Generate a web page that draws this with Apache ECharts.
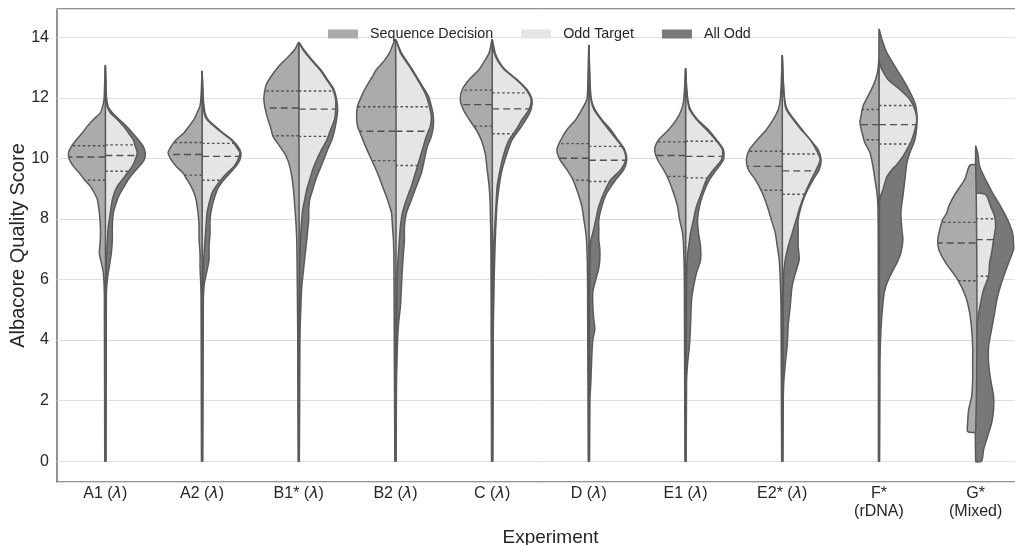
<!DOCTYPE html>
<html>
<head>
<meta charset="utf-8">
<script src="https://cdn.jsdelivr.net/npm/echarts@6/dist/echarts.min.js"></script>
<style>
html,body{margin:0;padding:0;background:#fff;}
#chart{width:1015px;height:545px;}
</style>
</head>
<body>
<div id="chart"></div>
<script>
// Category labels
const categories = ['A1 (λ)', 'A2 (λ)', 'B1* (λ)', 'B2 (λ)', 'C (λ)', 'D (λ)', 'E1 (λ)', 'E2* (λ)', 'F*\n(rDNA)', 'G*\n(Mixed)'];
const seriesNames = ['Sequence Decision', 'Odd Target', 'All Odd'];

// Violin half profiles: [score, density] pairs, from top to bottom (density in 1/100 of a category band)
const seqDecision = [
  [[13.04,0],[12.5,0.7],[12.0,1.2],[11.75,2.5],[11.51,5],[11.29,12],[11.07,18],[10.85,23],[10.62,29],[10.40,34],[10.19,37],[9.96,36],[9.74,32],[9.52,26],[9.30,21],[9.08,15],[8.86,11],[8.64,8],[8.20,6],[7.76,5],[7.32,5],[6.88,6],[6.55,4],[6.22,2],[5.5,1],[0,0.6]],
  [[12.85,0],[12.2,0.8],[11.74,2],[11.51,5],[11.29,8],[11.07,13],[10.85,18],[10.62,26],[10.40,31],[10.19,34],[9.96,31],[9.74,26],[9.52,19],[9.30,15],[9.08,11],[8.86,8],[8.64,6],[8.20,4],[7.76,3],[7.32,3],[6.88,2],[6.44,2],[5.5,1],[0,0.6]],
  [[13.82,0],[13.6,4],[13.38,10],[13.05,20],[12.7,28],[12.4,33],[12.0,35],[11.7,34],[11.3,31],[11.0,28],[10.75,26],[10.4,19],[10.1,13],[9.74,9],[9.3,6.5],[8.86,5],[8.42,4],[7.98,3],[7.3,2],[6,1.5],[4,1],[0,0.6]],
  [[13.91,0],[13.49,6],[13.2,12],[12.94,19],[12.66,24],[12.39,29],[12.06,34],[11.73,38],[11.40,39],[11.07,38],[10.73,34],[10.40,30],[9.96,24],[9.52,18],[9.08,13],[8.64,8],[8.20,4],[7.76,3],[7.3,2],[6.5,1.5],[0,0.6]],
  [[13.91,0],[13.49,3],[13.2,8],[12.94,13],[12.61,23],[12.28,30],[11.95,32],[11.62,29],[11.29,23],[10.95,16],[10.62,11],[10.18,7],[9.63,5],[9.08,3],[8.5,2],[7,1.2],[0,0.6]],
  [[13.7,0],[12.8,0.8],[12.3,1.2],[11.95,2],[11.62,7],[11.29,13],[10.95,22],[10.62,28],[10.29,32],[9.96,29],[9.63,22],[9.30,16],[8.86,11],[8.42,7],[7.98,5],[7.54,3],[7.10,2],[6,1.3],[0,0.6]],
  [[12.94,0],[12.3,1],[11.9,2],[11.62,4],[11.29,9],[10.95,17],[10.62,27],[10.29,31],[9.96,28],[9.63,22],[9.30,17],[8.86,12],[8.42,8],[7.98,6],[7.54,3],[7.1,2],[6,1.2],[0,0.6]],
  [[13.37,0],[12.5,1],[11.95,2],[11.62,4],[11.29,9],[10.95,16],[10.62,25],[10.29,33],[9.96,36],[9.63,34],[9.30,27],[8.86,20],[8.42,15],[7.98,11],[7.54,7],[7.10,5],[6.66,3],[6.0,2],[5,1.2],[0,0.6]],
  [[13.27,0],[12.94,1],[12.65,3],[12.39,6],[12.06,11],[11.73,16],[11.40,18],[11.18,19],[10.85,17],[10.51,14],[10.19,9],[9.74,6],[9.30,4],[8.86,2],[8.42,1],[7,0.6],[0,0.5]],
  [[9.77,6],[9.3,11],[8.86,20],[8.42,27],[8.20,29],[7.98,33],[7.65,36],[7.32,38],[6.99,37],[6.55,30],[6.0,18],[5.44,10],[4.9,6],[4.35,4],[3.79,3],[3.24,3],[2.69,3],[2.14,4],[1.70,7],[1.26,8],[0.98,8]]
];
const oddTarget = [
  [[13.04,0],[12.0,1],[11.7,2],[11.51,5],[11.29,12],[11.07,18],[10.85,23],[10.62,28],[10.40,30],[10.19,32],[9.96,30],[9.74,27],[9.52,22],[9.30,17],[9.08,12],[8.86,9],[8.64,7],[8.20,5],[7.76,3],[7.32,2],[6.5,1],[0,0.5]],
  [[12.85,0],[12.0,1],[11.51,2],[11.29,5],[11.07,12],[10.85,20],[10.62,29],[10.40,34],[10.19,38],[9.96,36],[9.74,32],[9.52,25],[9.30,19],[9.08,14],[8.86,10],[8.64,8],[8.20,5],[7.76,4],[7.32,3],[6.5,1.5],[0,0.5]],
  [[13.82,0],[13.6,4],[13.27,12],[12.94,21],[12.6,28],[12.3,34],[11.95,37],[11.6,37],[11.3,36],[10.95,32],[10.6,28],[10.3,23],[9.96,18],[9.63,14],[9.3,11],[8.97,8],[8.64,6],[8.3,4],[7.98,3],[7.5,2],[6.5,1],[0,0.5]],
  [[13.91,0],[13.49,5],[12.94,16],[12.39,26],[12.06,31],[11.73,34],[11.40,36],[11.07,35],[10.73,31],[10.40,28],[9.96,24],[9.52,20],[9.08,16],[8.64,11],[8.20,7],[7.76,5],[7.32,4],[6.88,3],[6,1.5],[0,0.5]],
  [[13.91,0],[13.49,2],[13.2,6],[12.94,12],[12.61,24],[12.28,34],[11.95,39],[11.62,37],[11.29,30],[10.95,24],[10.62,17],[10.18,12],[9.63,8],[9.08,5],[8.53,4],[7.98,3],[7,1.5],[0,0.5]],
  [[13.7,0],[12.5,1],[11.95,2],[11.62,5],[11.29,12],[10.95,20],[10.62,28],[10.29,35],[9.96,37],[9.63,32],[9.30,22],[8.86,15],[8.42,10],[7.98,7],[7.54,4],[7.3,2],[6.5,1],[0,0.5]],
  [[12.94,0],[12.3,1],[11.9,2],[11.62,4],[11.29,11],[10.95,21],[10.62,30],[10.29,37],[9.96,36],[9.63,28],[9.30,21],[8.86,16],[8.42,11],[7.98,8],[7.54,5],[7.3,4],[6.8,2],[6,1],[0,0.5]],
  [[13.37,0],[12.5,1],[11.95,2],[11.62,4],[11.29,11],[10.95,19],[10.62,28],[10.29,34],[9.96,38],[9.63,34],[9.30,29],[8.86,23],[8.42,18],[7.98,14],[7.54,10],[7.10,6],[6.66,3],[6.2,1.5],[5,1],[0,0.5]],
  [[13.16,0],[12.94,3],[12.61,9],[12.28,21],[11.95,31],[11.62,36],[11.29,38],[10.95,36],[10.62,33],[10.35,29],[10.07,24],[9.8,18],[9.63,13],[9.4,8],[9.2,6],[8.97,4],[8.75,1.5],[8.5,0.5],[0,0.4]],
  [[8.81,10],[8.42,15],[8.09,19],[7.76,20],[7.32,18],[6.88,16],[6.55,14],[6.11,13],[5.67,8],[5.23,5],[4.67,2],[4.23,0.5]]
];
const allOdd = [
  [[13.04,0],[12.0,1.2],[11.7,3],[11.51,7],[11.29,14],[11.07,21],[10.85,27],[10.62,33],[10.40,38],[10.19,40],[9.96,39],[9.74,34],[9.52,28],[9.30,23],[9.08,19],[8.86,15],[8.64,12],[8.20,8],[7.76,7],[7.32,7],[6.88,6],[6.44,4],[6.0,2],[5.5,1],[0,0.6]],
  [[12.85,0],[12.0,1.2],[11.51,3],[11.29,6],[11.07,13],[10.85,21],[10.62,30],[10.40,36],[10.19,39],[9.96,38],[9.74,34],[9.52,28],[9.30,22],[9.08,17],[8.86,14],[8.42,10],[7.98,8],[7.54,8],[7.1,7],[6.66,7],[6.3,5],[5.8,2],[5.0,1],[0,0.6]],
  [[13.82,0],[13.6,5],[13.27,13],[12.94,22],[12.6,29],[12.3,35],[11.95,38],[11.6,39],[11.3,38],[10.95,36],[10.6,33],[10.3,29],[9.96,25],[9.63,21],[9.3,17],[8.97,14],[8.64,11],[8.3,10],[7.98,10],[7.64,9],[7.3,8],[7.0,7],[6.39,5],[5.76,3],[5.0,2],[3.85,1],[0,0.6]],
  [[13.91,0],[13.49,6],[12.94,17],[12.39,27],[12.06,33],[11.73,36],[11.40,38],[11.07,38],[10.73,36],[10.40,32],[9.96,29],[9.52,26],[9.08,21],[8.64,16],[8.20,11],[7.76,9],[7.3,9],[6.88,8],[6.39,7],[5.76,6],[5.12,5],[4.5,3],[3.85,2],[2.59,1],[0,0.6]],
  [[13.91,0],[13.49,3],[13.2,7],[12.94,13],[12.61,25],[12.28,35],[11.95,40],[11.62,39],[11.29,34],[10.95,27],[10.62,20],[10.18,15],[9.63,10],[9.08,7],[8.53,5],[7.98,4],[7.2,3],[6,2],[4,1],[0,0.6]],
  [[13.7,0],[12.5,1.2],[11.95,2.5],[11.62,6],[11.29,13],[10.95,22],[10.62,29],[10.29,36],[9.96,38],[9.63,35],[9.30,27],[8.86,18],[8.42,13],[7.98,10],[7.64,10],[7.3,10],[7.02,11],[6.66,11],[6.39,10],[6.0,7],[5.6,4],[5.12,4],[4.67,5],[4.36,6],[4.01,4],[3.5,3],[2.59,2],[2,1],[0,0.6]],
  [[12.94,0],[12.3,1.2],[11.9,2.5],[11.62,5],[11.29,12],[10.95,23],[10.62,31],[10.29,38],[9.96,38],[9.63,31],[9.30,24],[8.86,18],[8.42,14],[7.98,12],[7.54,13],[7.10,15],[6.64,15],[6.22,11],[5.76,8],[5.34,6],[4.5,5],[3.85,4],[3.2,2],[2.59,1],[0,0.6]],
  [[13.37,0],[12.5,1.2],[11.95,2.5],[11.62,5],[11.29,12],[10.95,20],[10.62,28],[10.29,36],[9.96,39],[9.63,37],[9.30,31],[8.86,24],[8.42,19],[7.98,16],[7.64,16],[7.10,16],[6.66,17],[6.3,14],[5.8,10],[5.12,8],[4.5,6],[3.85,5],[3.2,3],[2.59,1.5],[2,1],[0,0.6]],
  [[14.26,0],[13.93,3],[13.49,8],[12.94,18],[12.39,28],[11.84,36],[11.51,38],[11.07,38],[10.62,36],[10.19,31],[9.85,28],[9.30,26],[8.75,24],[8.20,22],[7.65,23],[7.32,24],[6.88,22],[6.55,18],[6.11,11],[5.67,6],[5.23,4],[4.34,2],[3.25,1],[0,0.6]],
  [[10.40,0],[10.19,2],[9.74,4],[9.30,10],[8.86,17],[8.42,25],[7.98,32],[7.54,37],[7.2,38],[6.99,38],[6.55,33],[6.0,27],[5.44,22],[4.9,19],[4.35,16],[3.79,13],[3.24,13],[2.69,15],[2.14,18],[1.70,18],[1.26,16],[0.82,12],[0.38,8],[0,6]]
];

// Quartiles [upper quartile, median, lower quartile]
const seqQuartiles = [[10.42,10.05,9.28],[10.53,10.13,9.45],[12.23,11.67,10.75],[11.71,10.90,9.93],[12.26,11.78,11.07],[10.49,10.01,9.28],[10.55,10.10,9.41],[10.24,9.74,8.95],[11.62,11.12,10.62],[7.89,7.21,5.96]];
const oddQuartiles = [[10.45,10.10,9.58],[10.50,10.07,9.28],[12.23,11.63,10.73],[11.71,10.90,9.77],[12.17,11.64,10.82],[10.40,9.94,9.24],[10.57,10.07,9.36],[10.15,9.59,8.82],[11.75,11.12,10.48],[8.01,7.32,6.11]];

const OUTLINE = '#5a5a5a';
const COLORS = {'Sequence Decision': '#ababab', 'Odd Target': '#e5e5e5', 'All Odd': '#787878'};

function widthAt(profile, y) {
  for (let k = 0; k < profile.length - 1; k++) {
    const a = profile[k], b = profile[k + 1];
    if (y <= a[0] && y >= b[0]) {
      const t = (a[0] - y) / (a[0] - b[0] || 1);
      return a[1] + t * (b[1] - a[1]);
    }
  }
  return 0;
}

function violinSeries(name, profiles, quartiles, side) {
  return {
    type: 'custom',
    name: name,
    coordinateSystem: 'cartesian2d',
    itemStyle: {color: COLORS[name]},
    encode: {x: 0, y: 1},
    data: categories.map((c, i) => [i, profiles[i][0][0]]),
    silent: true,
    clip: false,
    renderItem: function (params, api) {
      const i = api.value(0);
      const band = api.size([1, 0])[0];
      const unit = band / 97;
      const prof = profiles[i];
      const pts = [];
      const first = prof[0], last = prof[prof.length - 1];
      if (first[1] > 0.01) { const c = api.coord([i, first[0]]); pts.push([c[0], c[1]]); }
      prof.forEach(function (p) {
        const c = api.coord([i, p[0]]);
        pts.push([c[0] + side * p[1] * unit, c[1]]);
      });
      if (last[1] > 0.01) { const c = api.coord([i, last[0]]); pts.push([c[0], c[1]]); }
      const children = [{
        type: 'polygon',
        shape: {points: pts, smooth: 0.25},
        style: {fill: COLORS[name], stroke: OUTLINE, lineWidth: 1.5}
      }];
      if (quartiles) {
        quartiles[i].forEach(function (q, k) {
          const c = api.coord([i, q]);
          const w = widthAt(prof, q) * unit;
          children.push({
            type: 'line',
            shape: {x1: c[0], y1: c[1], x2: c[0] + side * w, y2: c[1]},
            style: {stroke: '#505050', lineWidth: 1.4, lineDash: k === 1 ? [7, 4] : [2.5, 2.5]}
          });
        });
      }
      return {type: 'group', children: children};
    }
  };
}

const chart = echarts.init(document.getElementById('chart'), null, {renderer: 'canvas'});
const FONT = 'Liberation Sans, Arial, sans-serif';
chart.setOption({
  animation: false,
  textStyle: {fontFamily: FONT},
  grid: {left: 57, right: -9, top: 9, bottom: 63, containLabel: false, outerBoundsMode: 'none', show: true, borderColor: '#707070', borderWidth: 1.5, backgroundColor: 'transparent'},
  legend: {
    data: seriesNames,
    left: 323, top: 22,
    icon: 'rect', itemWidth: 30, itemHeight: 9, itemGap: 28,
    itemStyle: {borderWidth: 0},
    textStyle: {fontSize: 14.3, color: '#262626', fontFamily: FONT, padding: [0, 0, 0, 7]}
  },
  xAxis: {
    type: 'category', data: categories,
    axisLine: {show: false}, axisTick: {show: false}, splitLine: {show: false},
    axisLabel: {
      fontSize: 16, color: '#262626', margin: 3, lineHeight: 18, interval: 0,
      formatter: function (v) { return v.replace('λ', '{i|λ}'); },
      rich: {i: {fontStyle: 'italic', fontFamily: 'DejaVu Sans', fontSize: 16, color: '#262626'}}
    },
    name: 'Experiment', nameLocation: 'middle', nameGap: 46, nameMoveOverlap: false,
    nameTextStyle: {fontSize: 19, color: '#262626', padding: [0, 0, 0, 20]}
  },
  yAxis: {
    type: 'value', min: -0.69, max: 14.94, splitNumber: 8,
    axisLine: {show: false}, axisTick: {show: false},
    axisLabel: {fontSize: 16, color: '#262626', margin: 8, showMinLabel: false, showMaxLabel: false},
    splitLine: {lineStyle: {color: '#dedede', width: 1}},
    name: 'Albacore Quality Score', nameLocation: 'middle', nameGap: 29, nameMoveOverlap: false,
    nameTextStyle: {fontSize: 20, color: '#262626'}
  },
  series: [
    violinSeries('All Odd', allOdd, null, 1),
    violinSeries('Odd Target', oddTarget, oddQuartiles, 1),
    violinSeries('Sequence Decision', seqDecision, seqQuartiles, -1)
  ]
});
</script>
</body>
</html>
